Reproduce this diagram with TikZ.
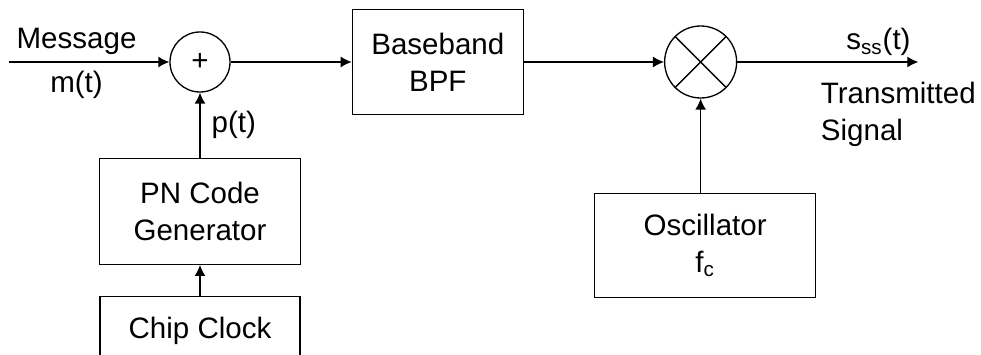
\documentclass[tikz,border=0pt]{standalone}
\usepackage{fontspec}
\setmainfont{Liberation Sans}
\usepackage{tikz}
\usetikzlibrary{arrows.meta, positioning}

\begin{document}
\begin{tikzpicture}[
  font=\fontsize{16.8}{21}\selectfont,
  line width=0.75pt,
  box/.style={draw, align=center, inner sep=0pt},
  sum/.style={draw, circle, inner sep=0pt, minimum size=1.2cm},
  mix/.style={draw, circle, inner sep=0pt, minimum size=1.44cm},
  arrow/.style={-{Latex[length=2.2mm, width=2.2mm]}}
]
\clip (0,0) rectangle (19.62,7.1);
\node[sum] (adder) at (4.0,5.86) {+};
\node[box, minimum width=3.42cm, minimum height=2.1cm, right=2.42cm of adder] (bpf) {Baseband\\BPF};
\node[mix, right=2.8cm of bpf] (mixer) {};
\node[box, minimum width=4.42cm, minimum height=2.08cm, below=1.88cm of mixer, xshift=0.09cm] (osc) {Oscillator\\f\textsubscript{c}};
\node[box, minimum width=4.02cm, minimum height=2.12cm, below=1.3cm of adder] (pn) {PN Code\\Generator};
\node[box, minimum width=4.0cm, minimum height=1.36cm, below=0.62cm of pn] (clock) {Chip Clock};
\coordinate[left=3.2cm of adder] (msg);
\coordinate[right=3.62cm of mixer] (out);
\node[anchor=north west, align=left, inner sep=0pt] (sig) at ([xshift=-1.96cm, yshift=-0.39cm]out) {Transmitted\\Signal};

\draw (mixer.north west) -- (mixer.south east);
\draw (mixer.north east) -- (mixer.south west);

\draw[arrow] (msg) -- node[pos=0.42, above=4pt, inner sep=0pt] {Message} node[pos=0.42, below=5pt, inner sep=0pt] {m(t)} (adder);
\draw[arrow] (adder) -- (bpf);
\draw[arrow] (bpf) -- (mixer);
\draw[arrow] (mixer) -- node[pos=0.78, above=3pt, inner sep=0pt] {s\textsubscript{ss}(t)} (out);
\draw[arrow] (pn) -- node[midway, right=0.22cm, inner sep=0pt] {p(t)} (adder);
\draw[arrow] (clock) -- (pn);
\draw[arrow] (osc.north -| mixer) -- (mixer);
\end{tikzpicture}
\end{document}
